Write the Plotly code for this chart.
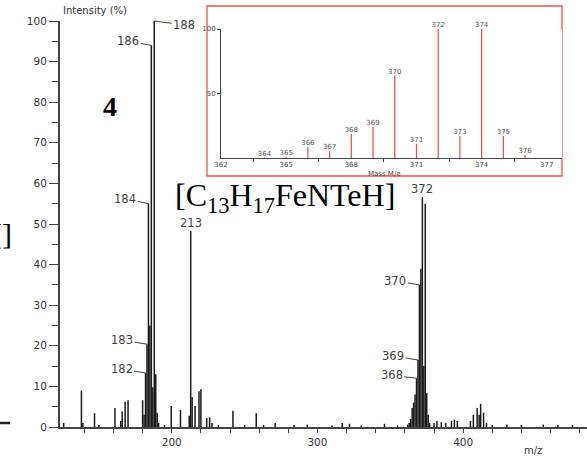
import plotly.graph_objects as go

# ---------------- data ----------------
# main spectrum: m/z and relative intensity (%)
mz_main = [125.8, 138, 139, 147, 150, 161, 165, 166, 168, 170,
           180, 181, 182, 183, 184, 185, 186, 187, 188, 189, 190, 191, 195,
           199.6, 206, 212, 213, 214, 216, 218.7, 220, 224, 226, 227.6, 232,
           242, 250, 258, 263, 271, 284, 293, 310, 317, 322, 330, 346, 355,
           362, 363, 364, 365, 366, 367, 368, 369, 370, 371, 372, 373, 374,
           375, 376, 377, 380, 382, 385, 388, 392, 394, 396,
           405, 407, 409.6, 411, 412, 414, 416, 420, 430, 440, 455, 465, 475]
int_main = [1, 9, 1, 3.4, 0.5, 4.7, 1.5, 3.8, 6.2, 6.6,
            6.6, 3, 13.3, 20.4, 55, 25, 94, 9.8, 100, 13, 3.5, 1, 0.5,
            5.2, 4.2, 2.8, 48.3, 7.4, 5.2, 8.8, 9.3, 2.2, 2.4, 1, 0.5,
            4, 0.5, 3.4, 0.5, 1, 0.5, 0.6, 0.4, 1, 0.8, 0.4, 0.8, 0.4,
            0.6, 1, 2, 4.7, 6, 8, 12, 16.5, 35, 39, 56.6, 15, 55,
            8.4, 3, 1, 1, 1.5, 1.2, 1, 1.5, 1.8, 1.5,
            1.5, 3, 4.7, 3, 5.7, 3.5, 1, 0.5, 0.6, 0.5, 0.6, 0.5, 0.5]

# labelled peaks in main spectrum
lab_mz = [188, 186, 184, 183, 182, 370, 369, 368]
lab_int = [100, 94, 55, 20.4, 13.3, 35, 16.5, 12]
top_lab_mz = [213, 372]
top_lab_int = [48.3, 56.6]

# simulated isotope pattern (inset)
mz_iso = [364, 365, 366, 367, 368, 369, 370, 371, 372, 373, 374, 375, 376]
int_iso = [0.5, 1, 8.5, 5.4, 18.6, 24, 64, 11, 100, 17, 100, 17, 2.3]
iso_tick_labels = [362, 365, 368, 371, 374, 377]

main_x_ticks = [200, 300, 400]

# ---------------- geometry helpers ----------------
W, H = 587, 460
ML, MR, MT, MB = 60, 0, 21, 33
PW, PH = W - ML - MR, H - MT - MB


def px(xp):
    return (xp - ML) / PW


def py(yp):
    return (H - MB - yp) / PH


# stick segments
sx, sy = [], []
for m, v in zip(mz_main, int_main):
    sx += [m, m, None]
    sy += [0, v, None]

ix, iy = [], []
for m, v in zip(mz_iso, int_iso):
    ix += [m, m, None]
    iy += [0, v, None]

fig = go.Figure()
fig.add_trace(go.Scatter(x=sx, y=sy, mode="lines",
                         line=dict(color="#1a1a1a", width=1.5),
                         hoverinfo="skip", showlegend=False))

fig.add_trace(go.Scatter(x=ix, y=iy, mode="lines", xaxis="x2", yaxis="y2",
                         line=dict(color="#ff4848", width=1.2),
                         hoverinfo="skip", showlegend=False))
fig.add_trace(go.Scatter(x=mz_iso, y=int_iso, mode="text", xaxis="x2", yaxis="y2",
                         text=[str(m) for m in mz_iso], textposition="top center",
                         textfont=dict(family="DejaVu Sans", size=7, color="#555"),
                         cliponaxis=False, hoverinfo="skip", showlegend=False))

sans = "DejaVu Sans"
fig.update_layout(
    width=W, height=H,
    margin=dict(l=ML, r=MR, t=MT, b=MB),
    paper_bgcolor="white", plot_bgcolor="white",
    showlegend=False,
    xaxis=dict(range=[123.3, 485], showline=True, linecolor="#444", linewidth=2,
               showgrid=False, zeroline=False,
               tickmode="array", tickvals=main_x_ticks,
               ticks="outside", ticklen=4, tickwidth=1.2, tickcolor="#444",
               minor=dict(dtick=20, tick0=0, ticks="outside", ticklen=4,
                          tickwidth=1.2, tickcolor="#444", showgrid=False),
               tickfont=dict(family=sans, size=10.5, color="#333")),
    yaxis=dict(range=[0, 100], showline=True, linecolor="#444", linewidth=2,
               showgrid=False, zeroline=False, dtick=10, tick0=0,
               ticks="outside", ticklen=9, tickwidth=1.2, tickcolor="#444",
               minor=dict(dtick=5, ticks="outside", ticklen=6, tickwidth=1.2,
                          tickcolor="#444", showgrid=False),
               tickfont=dict(family=sans, size=10.5, color="#333")),
    xaxis2=dict(domain=[px(221), px(562)], anchor="y2", range=[362, 377.7],
                showline=True, linecolor="#444", linewidth=1,
                showgrid=False, zeroline=False,
                tickmode="array", tickvals=iso_tick_labels, ticks="",
                minor=dict(tickmode="linear", tick0=363.5, dtick=3, ticks="outside",
                           ticklen=3, tickcolor="#444", showgrid=False),
                tickfont=dict(family=sans, size=7, color="#444")),
    yaxis2=dict(domain=[py(158), py(29)], anchor="x2", range=[0, 100],
                showline=True, linecolor="#444", linewidth=1,
                showgrid=False, zeroline=False,
                tickmode="array", tickvals=[50, 100], ticks="outside", ticklen=3,
                tickcolor="#444",
                tickfont=dict(family=sans, size=7, color="#444")),
)

# inset frame
fig.add_shape(type="rect", xref="paper", yref="paper",
              x0=px(207), x1=px(562), y0=py(176), y1=py(6),
              line=dict(color="#ff4d4d", width=1.3), fillcolor="white", layer="below")

ann = []
# peak labels with leader lines
offsets = {188: (30, 4), 186: (-23, -4), 184: (-23, -5), 183: (-25, -4),
           182: (-24, -4), 370: (-24, -4), 369: (-25, -4), 368: (-25, -3)}
for m, v in zip(lab_mz, lab_int):
    ax, ay = offsets[m]
    ann.append(dict(x=m, y=v, xref="x", yref="y", text=str(m), showarrow=True,
                    arrowhead=0, arrowwidth=1, arrowcolor="#444", ax=ax, ay=ay,
                    standoff=0, font=dict(family=sans, size=11.5, color="#444")))
for m, v in zip(top_lab_mz, top_lab_int):
    ann.append(dict(x=m, y=v, xref="x", yref="y", text=str(m), showarrow=False,
                    yanchor="bottom", yshift=-1,
                    font=dict(family=sans, size=11.5, color="#444")))


def paper_text(x, y, text, size, family=sans, color="#333", xanchor="center"):
    return dict(x=px(x), y=py(y), xref="paper", yref="paper", text=text,
                showarrow=False, xanchor=xanchor, yanchor="middle",
                font=dict(family=family, size=size, color=color))


ann += [
    paper_text(95, 10, "Intensity (%)", 10),
    paper_text(533, 450, "m/z", 10),
    paper_text(384, 174, "Mass M/e", 7, color="#444"),
    paper_text(110, 107, "<b>4</b>", 28, family="Liberation Serif", color="black"),
    paper_text(173, 197, "[C<sub>13</sub>H<sub>17</sub>FeNTeH]", 32,
               family="Liberation Serif", color="black", xanchor="left"),
    paper_text(14, 233, "[]", 30, family="Liberation Serif", color="black",
               xanchor="right"),
]
fig.update_layout(annotations=ann)

fig.add_shape(type="line", xref="paper", yref="paper",
              x0=px(0), x1=px(10), y0=py(423), y1=py(423),
              line=dict(color="#222", width=2.5))

fig.write_html("out.html", config={"displayModeBar": False},
               post_script="document.body.style.margin='0';document.body.style.overflow='hidden';")
